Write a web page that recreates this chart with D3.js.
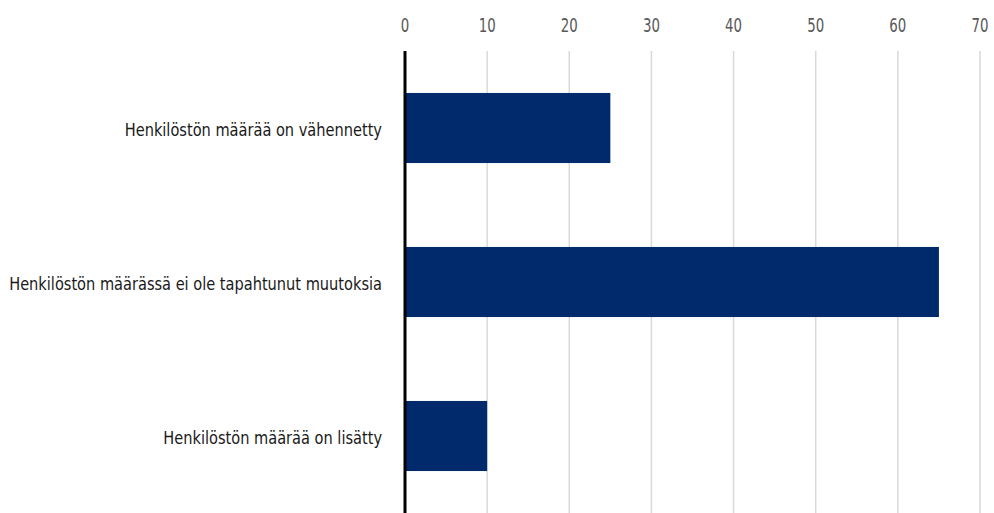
<!DOCTYPE html>
<html><head><meta charset="utf-8">
<script src="https://cdn.jsdelivr.net/npm/d3@7"></script>
<style>
body{margin:0;background:#fff;}
text{font-family:"DejaVu Sans Condensed","Liberation Sans Narrow",sans-serif;}
</style></head>
<body><svg id="c" width="994" height="513"></svg>
<script>
const categories = ["Henkilöstön määrää on vähennetty","Henkilöstön määrässä ei ole tapahtunut muutoksia","Henkilöstön määrää on lisätty"];
const values = [25,65,10];
const ticks = [0,10,20,30,40,50,60,70];

const svg = d3.select("#c");
const x = d3.scaleLinear().domain([0,70]).range([405,980]);
const y = d3.scaleBand().domain(categories).range([51,513]).paddingInner(0.545).paddingOuter(0.2725);

svg.append("g").selectAll("line").data(ticks.slice(1)).join("line")
  .attr("x1",d=>x(d)).attr("x2",d=>x(d)).attr("y1",51).attr("y2",513)
  .attr("stroke","#d9d9d9").attr("stroke-width",1.5);

svg.append("g").selectAll("text").data(ticks).join("text")
  .attr("x",d=>x(d)).attr("y",32).attr("text-anchor","middle")
  .attr("fill","#595959").attr("font-size",19).text(d=>d)
  .each(function(){ const w=this.getComputedTextLength(); d3.select(this).attr("textLength",w*0.78).attr("lengthAdjust","spacingAndGlyphs"); });

svg.append("g").selectAll("rect").data(values).join("rect")
  .attr("x",x(0)).attr("y",(d,i)=>y(categories[i])).attr("width",d=>x(d)-x(0))
  .attr("height",y.bandwidth()).attr("fill","#002a6c");

svg.append("line").attr("x1",x(0)).attr("x2",x(0)).attr("y1",51).attr("y2",513)
  .attr("stroke","#000").attr("stroke-width",3);

svg.append("g").selectAll("text").data(categories).join("text")
  .attr("x",382).attr("y",d=>y(d)+y.bandwidth()/2).attr("dy","0.46em")
  .attr("text-anchor","end").attr("fill","#1a1a1a").attr("font-size",18).text(d=>d)
  .each(function(d,i){ const w=this.getComputedTextLength(); d3.select(this).attr("textLength",w*0.90).attr("lengthAdjust","spacingAndGlyphs"); });
</script></body></html>
